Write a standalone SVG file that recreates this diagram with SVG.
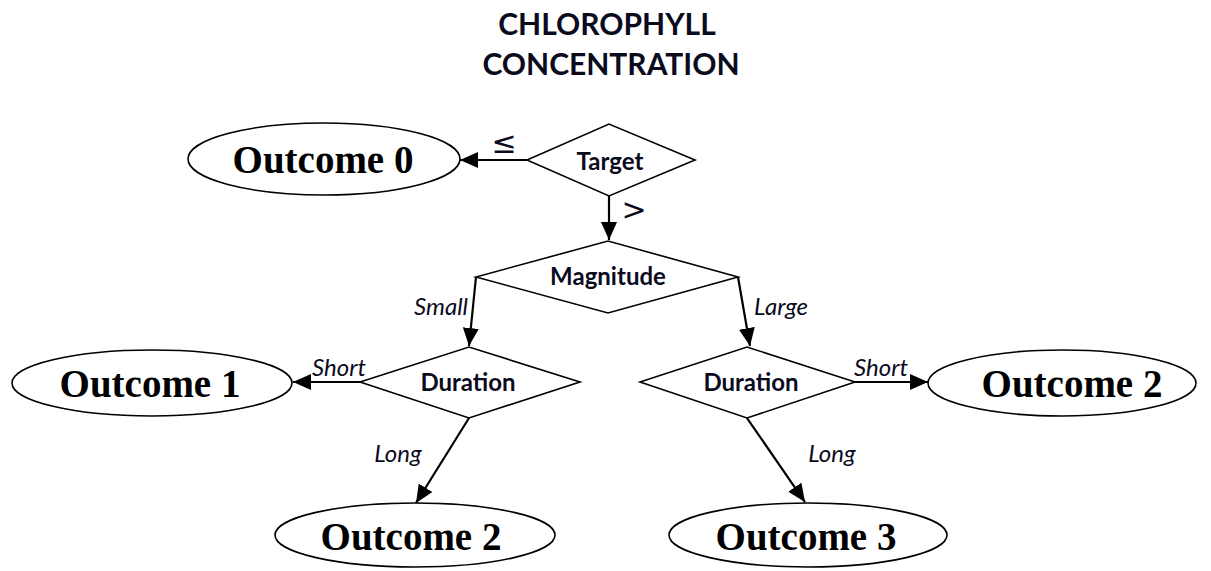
<svg xmlns="http://www.w3.org/2000/svg" width="1211" height="571" viewBox="0 0 1211 571">
<defs>
<marker id="arr" markerUnits="userSpaceOnUse" markerWidth="19" markerHeight="17" refX="18" refY="8" orient="auto">
<path d="M0,0 L18,8 L0,16 Z" fill="#000"/>
</marker>
<style>
.title{font-family:Lato,"Open Sans",sans-serif;font-weight:bold;font-size:30px;fill:#0b0b1e;text-anchor:middle}
.out{font-family:"Liberation Serif",serif;font-weight:bold;font-size:39px;fill:#000;text-anchor:middle}
.dec{font-family:Lato,"Open Sans",sans-serif;font-weight:bold;font-size:24px;fill:#0b0b1e;text-anchor:middle}
.lbl{font-family:Lato,"Open Sans",sans-serif;font-style:italic;font-size:24px;fill:#0b0b1e;text-anchor:middle}
.sym{font-family:"DejaVu Sans",sans-serif;font-size:30px;fill:#0b0b1e;text-anchor:middle}
.shape{fill:#fff;stroke:#000;stroke-width:1.6}
.edge{fill:none;stroke:#000;stroke-width:2.2;marker-end:url(#arr)}
</style>
</defs>
<rect width="1211" height="571" fill="#fff"/>
<g id="title">
<text class="title" x="607" y="35">CHLOROPHYLL</text>
<text class="title" x="611" y="75">CONCENTRATION</text>
</g>
<g id="connectors">
<line class="edge" x1="527" y1="160" x2="460" y2="160"/>
<text class="sym" x="504" y="153">≤</text>
<line class="edge" x1="609" y1="196" x2="609" y2="240"/>
<text class="sym" x="634" y="220">&gt;</text>
<line class="edge" x1="476" y1="277" x2="469" y2="346"/>
<text class="lbl" x="441" y="315">Small</text>
<line class="edge" x1="738" y1="277" x2="750" y2="346"/>
<text class="lbl" x="781" y="315">Large</text>
<line class="edge" x1="360" y1="382" x2="293" y2="382"/>
<text class="lbl" x="339" y="376">Short</text>
<line class="edge" x1="469" y1="418" x2="416" y2="503"/>
<text class="lbl" x="398" y="462">Long</text>
<line class="edge" x1="855" y1="382" x2="928" y2="382"/>
<text class="lbl" x="881" y="376">Short</text>
<line class="edge" x1="747" y1="418" x2="805" y2="502"/>
<text class="lbl" x="832" y="462">Long</text>
</g>
<g id="outcome0">
<ellipse class="shape" cx="324" cy="159" rx="136" ry="36"/>
<text class="out" x="323" y="173">Outcome 0</text>
</g>
<g id="target">
<polygon class="shape" points="527,160 609,124 695,160 609,196"/>
<text class="dec" x="610" y="170">Target</text>
</g>
<g id="magnitude">
<polygon class="shape" points="476,277 608,241 738,277 608,313"/>
<text class="dec" x="608" y="285">Magnitude</text>
</g>
<g id="durationL">
<polygon class="shape" points="360,382 469,347 580,382 469,418"/>
<text class="dec" x="468" y="391">Duration</text>
</g>
<g id="durationR">
<polygon class="shape" points="640,382 747,347 855,382 747,418"/>
<text class="dec" x="751" y="391">Duration</text>
</g>
<g id="outcome1">
<ellipse class="shape" cx="152" cy="383" rx="140" ry="33"/>
<text class="out" x="150" y="397">Outcome 1</text>
</g>
<g id="outcome2a">
<ellipse class="shape" cx="415" cy="535" rx="140" ry="32"/>
<text class="out" x="411" y="550">Outcome 2</text>
</g>
<g id="outcome2b">
<ellipse class="shape" cx="1062" cy="383" rx="134" ry="33"/>
<text class="out" x="1072" y="397">Outcome 2</text>
</g>
<g id="outcome3">
<ellipse class="shape" cx="808" cy="535" rx="139" ry="32"/>
<text class="out" x="806" y="550">Outcome 3</text>
</g>
</svg>
